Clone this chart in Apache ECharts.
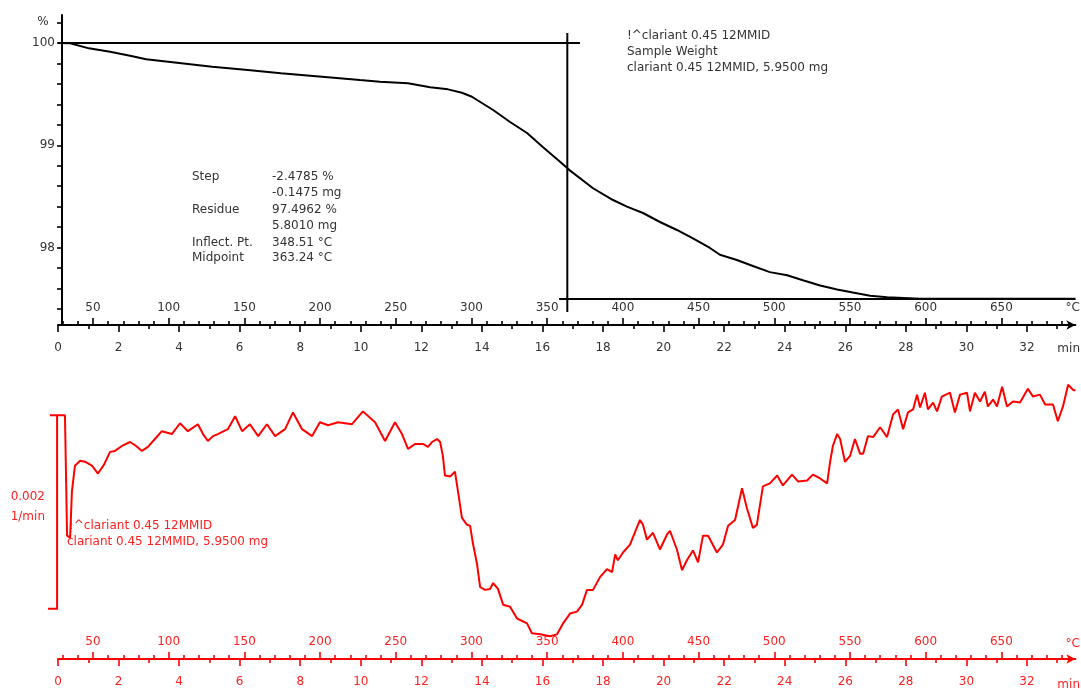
<!DOCTYPE html>
<html><head><meta charset="utf-8">
<script src="https://cdn.jsdelivr.net/npm/echarts@6/dist/echarts.min.js"></script>
<style>html,body{margin:0;padding:0;background:#fff}#c{width:1081px;height:688px}</style>
</head><body><div id="c"></div>
<script>
// ---- data ----
// TG curve: time (min) and mass (%)
const tgTime = [0, 0.40, 1.02, 1.72, 2.38, 2.91, 3.93, 5.09, 6.27, 7.36, 8.72, 9.97, 10.63, 11.56, 12.29, 12.88, 13.34, 13.67, 13.84, 14.37, 14.93, 15.49, 16.02, 16.58, 16.88, 17.67, 18.33, 18.79, 19.32, 19.88, 20.44, 20.97, 21.53, 21.86, 22.42, 22.95, 23.51, 24.08, 24.60, 25.17, 25.73, 26.25, 26.82, 27.38, 28.47, 31.11, 33.6];
const tgMass = [100.00, 99.997, 99.948, 99.915, 99.876, 99.841, 99.807, 99.768, 99.736, 99.704, 99.670, 99.638, 99.622, 99.606, 99.567, 99.547, 99.514, 99.475, 99.443, 99.345, 99.228, 99.12, 98.98, 98.84, 98.76, 98.58, 98.465, 98.40, 98.338, 98.25, 98.172, 98.09, 97.996, 97.93, 97.878, 97.82, 97.76, 97.73, 97.68, 97.63, 97.59, 97.56, 97.53, 97.515, 97.50, 97.50, 97.50];
// DTG curve: time (min) and rate (10^-3 1/min)
const dtgTime = [0, 0.23, 0.30, 0.40, 0.46, 0.56, 0.73, 0.89, 1.12, 1.32, 1.52, 1.72, 1.88, 2.11, 2.38, 2.58, 2.77, 2.97, 3.20, 3.43, 3.76, 4.03, 4.29, 4.62, 4.79, 4.95, 5.12, 5.28, 5.61, 5.85, 6.08, 6.34, 6.61, 6.90, 7.17, 7.50, 7.76, 8.06, 8.39, 8.65, 8.92, 9.25, 9.71, 10.07, 10.47, 10.80, 11.13, 11.36, 11.56, 11.79, 12.05, 12.22, 12.35, 12.52, 12.62, 12.71, 12.78, 12.95, 13.11, 13.21, 13.34, 13.51, 13.61, 13.71, 13.84, 13.94, 14.10, 14.27, 14.37, 14.53, 14.70, 14.93, 15.16, 15.49, 15.65, 15.92, 16.25, 16.48, 16.68, 16.91, 17.14, 17.31, 17.47, 17.67, 17.90, 18.13, 18.30, 18.40, 18.49, 18.66, 18.89, 19.22, 19.32, 19.45, 19.65, 19.88, 20.11, 20.21, 20.44, 20.61, 20.77, 20.97, 21.14, 21.30, 21.47, 21.76, 21.96, 22.13, 22.36, 22.59, 22.75, 22.95, 23.08, 23.28, 23.51, 23.75, 23.94, 24.24, 24.44, 24.74, 24.93, 25.17, 25.40, 25.50, 25.59, 25.73, 25.83, 25.99, 26.16, 26.32, 26.49, 26.59, 26.75, 26.92, 27.15, 27.38, 27.58, 27.74, 27.91, 28.07, 28.24, 28.37, 28.47, 28.63, 28.73, 28.90, 29.03, 29.19, 29.46, 29.62, 29.79, 30.02, 30.12, 30.28, 30.45, 30.61, 30.71, 30.88, 31.01, 31.18, 31.34, 31.54, 31.77, 32.03, 32.20, 32.43, 32.60, 32.86, 33.02, 33.19, 33.36, 33.52, 33.6];
const dtgValue = [-0.163, -0.163, -1.408, -1.429, -0.949, -0.684, -0.633, -0.643, -0.684, -0.765, -0.673, -0.541, -0.531, -0.480, -0.439, -0.480, -0.531, -0.490, -0.408, -0.327, -0.357, -0.245, -0.327, -0.255, -0.357, -0.429, -0.378, -0.357, -0.306, -0.173, -0.327, -0.255, -0.378, -0.255, -0.378, -0.306, -0.133, -0.306, -0.378, -0.235, -0.265, -0.235, -0.255, -0.122, -0.235, -0.429, -0.235, -0.357, -0.510, -0.459, -0.459, -0.490, -0.439, -0.408, -0.439, -0.582, -0.786, -0.796, -0.745, -0.949, -1.224, -1.296, -1.306, -1.500, -1.704, -1.939, -1.969, -1.959, -1.898, -1.959, -2.122, -2.143, -2.265, -2.316, -2.418, -2.429, -2.449, -2.429, -2.316, -2.214, -2.194, -2.122, -1.969, -1.969, -1.837, -1.755, -1.786, -1.602, -1.663, -1.582, -1.500, -1.245, -1.296, -1.449, -1.378, -1.551, -1.398, -1.357, -1.551, -1.765, -1.663, -1.561, -1.684, -1.408, -1.408, -1.582, -1.500, -1.306, -1.245, -0.918, -1.122, -1.327, -1.296, -0.898, -0.867, -0.786, -0.888, -0.776, -0.847, -0.837, -0.776, -0.816, -0.867, -0.643, -0.480, -0.357, -0.408, -0.643, -0.582, -0.408, -0.561, -0.561, -0.378, -0.388, -0.286, -0.388, -0.153, -0.102, -0.306, -0.133, -0.102, 0.051, -0.082, 0.071, -0.102, -0.031, -0.122, 0.031, 0.071, -0.133, 0.051, 0.071, -0.122, 0.071, -0.020, 0.082, -0.071, 0.000, -0.071, 0.133, -0.071, -0.020, -0.031, 0.112, 0.031, 0.051, -0.051, -0.051, -0.224, -0.071, 0.153, 0.102, 0.092];
// step evaluation
const stepBaseline = 100.0;        // %
const stepResidue = 97.4962;       // %
const midpointTime = 16.82;        // min (363.24 °C)
const baselineEnd = 17.24;         // min
const residueStart = 16.55;        // min
const verticalRange = [100.098, 97.37];
// scale bar 0.002 1/min (in 10^-3 1/min units)
const scaleBarTop = -0.163, scaleBarLen = 2;
const scaleBarX = [-0.27, -0.03, -0.33];
// axes
const timeMax = 33.6;
const tempStart = 26.9, heatingRate = 20;
const timeMajor = [0,2,4,6,8,10,12,14,16,18,20,22,24,26,28,30,32];
const timeMinor = [1,3,5,7,9,11,13,15,17,19,21,23,25,27,29,31,33];
const tempMajor = [50,100,150,200,250,300,350,400,450,500,550,600,650];
const tempMinor = [30,40,60,70,80,90,110,120,130,140,160,170,180,190,210,220,230,240,260,270,280,290,310,320,330,340,360,370,380,390,410,420,430,440,460,470,480,490,510,520,530,540,560,570,580,590,610,620,630,640,660,670,680,690];
const massTicks = [97.4,97.6,97.8,98.0,98.2,98.4,98.6,98.8,99.0,99.2,99.4,99.6,99.8,100.0,100.2];
const massLabels = [98,99,100];
const stepLabels = ['Step','','Residue','','Inflect. Pt.','Midpoint'];
const stepValues = ['-2.4785 %','-0.1475 mg','97.4962 %','5.8010 mg','348.51 °C','363.24 °C'];
const infoLines = ['!^clariant 0.45 12MMID','Sample Weight','clariant 0.45 12MMID, 5.9500 mg'];
const dtgLines = ['!^clariant 0.45 12MMID','clariant 0.45 12MMID, 5.9500 mg'];

// ---- chart ----
const FF = '"DejaVu Sans", Verdana, sans-serif';
const BLACK = '#000', RED = '#ff0000', TXT = '#333', RTXT = '#ff2020';
const tempMax = tempStart + heatingRate * timeMax;
const zip = (a, b) => a.map((v, i) => [v, b[i]]);

function xAxes(g, c, tc) {
  const base = {type:'value', gridIndex:g, position:'bottom', splitLine:{show:false}, axisPointer:{show:false}};
  return [
    Object.assign({}, base, {min:0, max:timeMax,
      axisLine:{show:true, onZero:false, lineStyle:{color:c, width:2}, symbol:['none','arrow'], symbolSize:[7,9]},
      axisTick:{show:true, customValues:timeMajor, length:7, lineStyle:{color:c, width:1.6}},
      axisLabel:{show:true, customValues:timeMajor, margin:17, color:tc, fontSize:12, fontFamily:FF}}),
    Object.assign({}, base, {min:0, max:timeMax,
      axisLine:{show:false, onZero:false},
      axisTick:{show:true, customValues:timeMinor, length:4, lineStyle:{color:c, width:1.6}},
      axisLabel:{show:false}}),
    Object.assign({}, base, {min:tempStart, max:tempMax,
      axisLine:{show:false, onZero:false},
      axisTick:{show:true, inside:true, customValues:tempMajor, length:7, lineStyle:{color:c, width:1.6}},
      axisLabel:{show:true, inside:true, customValues:tempMajor, margin:11, color:tc, fontSize:12, fontFamily:FF}}),
    Object.assign({}, base, {min:tempStart, max:tempMax,
      axisLine:{show:false, onZero:false},
      axisTick:{show:true, inside:true, customValues:tempMinor, length:4, lineStyle:{color:c, width:1.6}},
      axisLabel:{show:false}})
  ];
}

const gridW = 1017.4;
function txt(x, y, s, color, align) {
  return {type:'text', x:x, y:y, silent:true, z:100,
    style:{text:s, fill:color, font:'12px ' + FF, align:align || 'left', verticalAlign:'middle',
      textAlign:align || 'left', textVerticalAlign:'middle'}};
}
const graphics = [];
graphics.push(txt(43, 22, '%', TXT, 'center'));
infoLines.forEach((s, i) => graphics.push(txt(627, 36 + i * 16, s, TXT)));
const stepY = [177, 193, 210, 226, 243, 258];
stepLabels.forEach((s, i) => { if (s) graphics.push(txt(192, stepY[i], s, TXT)); });
stepValues.forEach((s, i) => graphics.push(txt(272, stepY[i], s, TXT)));
graphics.push(txt(1080, 308, '°C', TXT, 'right'));
graphics.push(txt(1080, 349, 'min', TXT, 'right'));
graphics.push(txt(1080, 644, '°C', RTXT, 'right'));
graphics.push(txt(1080, 685, 'min', RTXT, 'right'));
graphics.push(txt(45, 497, '0.002', RTXT, 'right'));
graphics.push(txt(45, 517, '1/min', RTXT, 'right'));
graphics.push(txt(69, 526, dtgLines[0], RTXT));
graphics.push(txt(67, 542, dtgLines[1], RTXT));

const lineS = (xi, yi, data, color, w, extra) => Object.assign({
  type:'line', xAxisIndex:xi, yAxisIndex:yi, data:data, symbol:'none', silent:true,
  lineStyle:{color:color, width:w}, animation:false}, extra || {});

const option = {
  animation:false,
  backgroundColor:'#fff',
  grid:[
    {left:58, top:15, width:gridW, height:310},
    {left:58, top:370, width:gridW, height:293}
  ],
  xAxis: xAxes(0, BLACK, TXT).concat(xAxes(1, RED, RTXT)),
  yAxis:[
    {type:'value', gridIndex:0, min:97.243, max:100.274, position:'left', offset:-4,
      splitLine:{show:false},
      axisLine:{show:true, lineStyle:{color:BLACK, width:2}},
      axisTick:{show:true, customValues:massTicks, length:5, lineStyle:{color:BLACK, width:1.6}},
      axisLabel:{show:true, customValues:massLabels, margin:7, color:TXT, fontSize:12, fontFamily:FF}},
    {type:'value', gridIndex:1, min:-2.684, max:0.306, show:false}
  ],
  graphic: graphics,
  series:[
    lineS(0, 0, zip(tgTime, tgMass), BLACK, 2),
    lineS(0, 0, [[0, stepBaseline], [baselineEnd, stepBaseline]], BLACK, 2),
    lineS(0, 0, [[midpointTime, verticalRange[0]], [midpointTime, verticalRange[1]]], BLACK, 2),
    lineS(0, 0, [[residueStart, stepResidue], [timeMax, stepResidue]], BLACK, 2),
    lineS(4, 1, zip(dtgTime, dtgValue), RED, 2)
  ]
};
const chart = echarts.init(document.getElementById('c'), null, {renderer:'canvas'});
chart.setOption(option);
// scale bar drawn through the DTG grid's scales
const finder = {xAxisIndex:4, yAxisIndex:1};
const bot = scaleBarTop - scaleBarLen;
const pts = [[scaleBarX[0], scaleBarTop], [scaleBarX[1], scaleBarTop], [scaleBarX[1], bot], [scaleBarX[2], bot]]
  .map(p => chart.convertToPixel(finder, p));
graphics.push({type:'polyline', silent:true, z:50, shape:{points:pts}, style:{stroke:RED, lineWidth:2, fill:null}});
chart.setOption({graphic: graphics}, {replaceMerge:['graphic']});
</script></body></html>
